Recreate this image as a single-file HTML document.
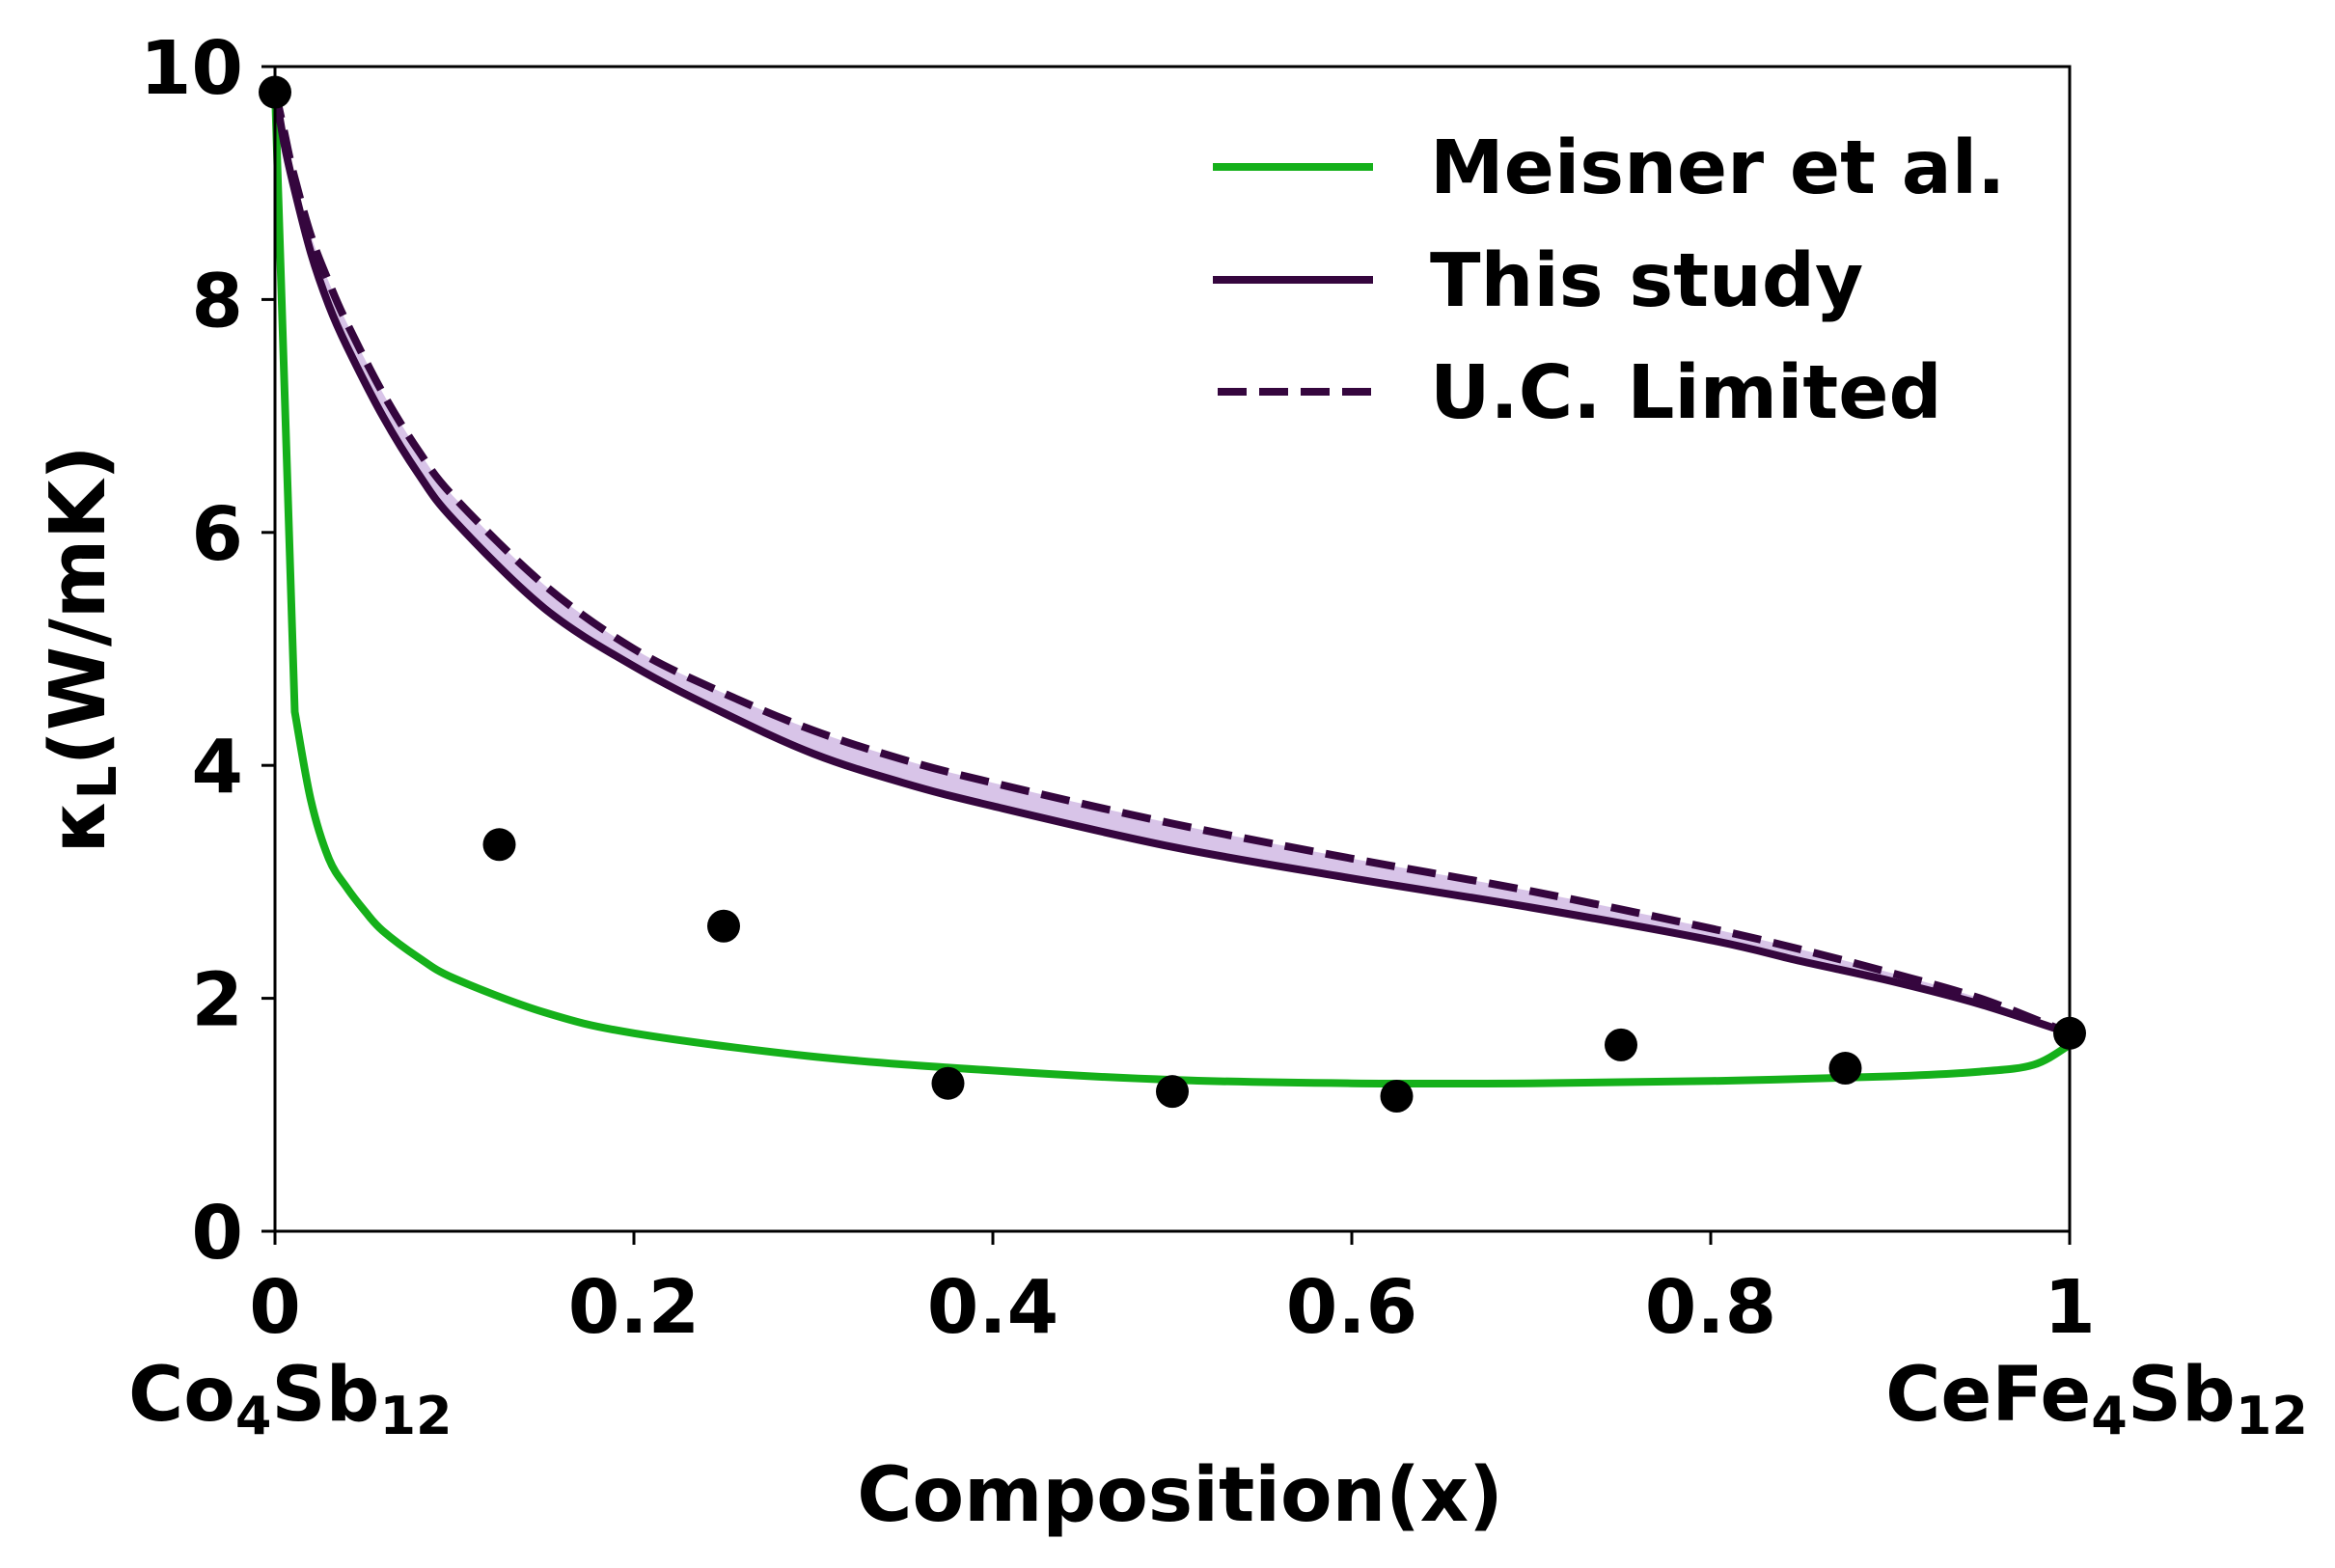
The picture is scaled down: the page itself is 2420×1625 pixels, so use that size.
<!DOCTYPE html>
<html><head><meta charset="utf-8"><style>
html,body{margin:0;padding:0;background:#fff;}
svg{display:block;font-family:"DejaVu Sans","Liberation Sans",sans-serif;font-weight:bold;}
</style></head><body>
<svg id="chart" width="2420" height="1625" viewBox="0 0 2420 1625">
</svg>
<script>
const studyX=[0,0.005,0.01,0.02,0.03,0.04,0.06,0.08,0.1,0.15,0.2,0.25,0.3,0.35,0.4,0.5,0.6,0.7,0.8,0.85,0.9,0.95,1];
const studyY=[9.8,9.35,9.0,8.4,7.95,7.6,7.0,6.5,6.1,5.35,4.85,4.45,4.1,3.85,3.65,3.3,3.03,2.78,2.5,2.32,2.15,1.95,1.7];
const ucY=[9.8,9.45,9.1,8.55,8.15,7.8,7.2,6.7,6.3,5.55,5.0,4.62,4.3,4.05,3.85,3.5,3.2,2.92,2.6,2.42,2.22,2.0,1.7];
const meisnerX=[0,0.011,0.02,0.03,0.04,0.05,0.06,0.08,0.1,0.15,0.2,0.3,0.4,0.5,0.6,0.7,0.8,0.9,0.95,0.98,1];
const meisnerY=[9.8,4.46,3.7,3.2,2.95,2.75,2.58,2.35,2.17,1.88,1.7,1.5,1.38,1.3,1.27,1.27,1.29,1.33,1.37,1.43,1.6];
const expX=[0,0.125,0.25,0.375,0.5,0.625,0.75,0.875,1];
const expY=[9.78,3.32,2.62,1.27,1.2,1.16,1.6,1.4,1.7];
const xTicks=[0,0.2,0.4,0.6,0.8,1];
const xTickLabels=["0","0.2","0.4","0.6","0.8","1"];
const yTicks=[0,2,4,6,8,10];
const yTickLabels=["0","2","4","6","8","10"];

const L=285,R=2145,T=69,B=1276;
const X=v=>L+v*(R-L);
const Y=v=>B-v/10*(B-T);
const NS="http://www.w3.org/2000/svg";
const svg=document.getElementById('chart');
function mk(tag,attrs,parent){const e=document.createElementNS(NS,tag);for(const k in attrs)e.setAttribute(k,attrs[k]);(parent||svg).appendChild(e);return e;}
function segs(xs,ys,linearFirst){
  const p=xs.map((x,i)=>[X(x),Y(ys[i])]);
  let d='';
  const start=linearFirst?1:0;
  if(linearFirst)d+=' L'+p[1][0].toFixed(1)+','+p[1][1].toFixed(1);
  for(let i=start;i<p.length-1;i++){
    const p0=p[Math.max(start,i-1)],p1=p[i],p2=p[i+1],p3=p[Math.min(p.length-1,i+2)];
    const c1=[p1[0]+(p2[0]-p0[0])/6,p1[1]+(p2[1]-p0[1])/6];
    const c2=[p2[0]-(p3[0]-p1[0])/6,p2[1]-(p3[1]-p1[1])/6];
    const lo=Math.min(p1[0],p2[0]),hi=Math.max(p1[0],p2[0]);
    c1[0]=Math.min(Math.max(c1[0],lo),hi);c2[0]=Math.min(Math.max(c2[0],lo),hi);
    d+=' C'+c1[0].toFixed(1)+','+c1[1].toFixed(1)+' '+c2[0].toFixed(1)+','+c2[1].toFixed(1)+' '+p2[0].toFixed(1)+','+p2[1].toFixed(1);
  }
  return {start:p[0],d:d};
}
function path(xs,ys,lf){const s=segs(xs,ys,lf);return 'M'+s.start[0].toFixed(1)+','+s.start[1].toFixed(1)+s.d;}

const up=segs(studyX,ucY,false);
const lo=segs(studyX.slice().reverse(),studyY.slice().reverse(),false);
let f=mk('path',{d:'M'+up.start[0]+','+up.start[1]+up.d+' L'+lo.start[0]+','+lo.start[1]+lo.d+' Z',fill:'#d8c4e8',stroke:'none'});



let m=mk('path',{d:path(meisnerX,meisnerY,true),fill:'none',stroke:'#15b01a','stroke-width':8,'stroke-linejoin':'round'});


let s=mk('path',{d:path(studyX,studyY,false),fill:'none',stroke:'#35063e','stroke-width':8,'stroke-linejoin':'round'});


let u=mk('path',{d:path(studyX,ucY,false),fill:'none',stroke:'#35063e','stroke-width':8,'stroke-dasharray':'30,13'});



expX.forEach((x,i)=>{
  const c=mk('circle',{cx:X(x),cy:Y(expY[i]),r:17,fill:'#000'});
  
  
});

const fr=mk('rect',{x:L,y:T,width:R-L,height:B-T,fill:'none',stroke:'#000','stroke-width':3});



xTicks.forEach((t,i)=>{
  const l=mk('line',{x1:X(t),x2:X(t),y1:B,y2:B+14,stroke:'#000','stroke-width':3});
  
  
  const tx=mk('text',{x:X(t),y:1381,'font-size':77,'text-anchor':'middle'});
  tx.textContent=xTickLabels[i];
  
  
});
yTicks.forEach((t,i)=>{
  const l=mk('line',{x1:L-14,x2:L,y1:Y(t),y2:Y(t),stroke:'#000','stroke-width':3});
  
  
  const tx=mk('text',{x:252,y:Y(t)+28,'font-size':77,'text-anchor':'end'});
  tx.textContent=yTickLabels[i];
  
  
});

svg.insertAdjacentHTML('beforeend',`
<text x="133" y="1472" font-size="78">Co<tspan font-size="54" dy="14">4</tspan><tspan dy="-14">Sb</tspan><tspan font-size="54" dy="14">12</tspan></text>
<text x="2392" y="1472" font-size="78" text-anchor="end">CeFe<tspan font-size="54" dy="14">4</tspan><tspan dy="-14">Sb</tspan><tspan font-size="54" dy="14">12</tspan></text>
<text x="1223" y="1576" font-size="78" text-anchor="middle">Composition(x)</text>
<text transform="translate(108,673) rotate(-90)" font-size="79" text-anchor="middle">κ<tspan font-size="55" dy="12">L</tspan><tspan dy="-12">(W/mK)</tspan></text>
<g>
<line x1="1257" x2="1423" y1="173" y2="173" stroke="#15b01a" stroke-width="8"/>
<text x="1482" y="200" font-size="77">Meisner et al.</text>
<line x1="1257" x2="1423" y1="290" y2="290" stroke="#35063e" stroke-width="8"/>
<text x="1482" y="317" font-size="77">This study</text>
<line x1="1262" x2="1423" y1="406" y2="406" stroke="#35063e" stroke-width="8" stroke-dasharray="30,13"/>
<text x="1482" y="433" font-size="77">U.C. Limited</text>
</g>`);
</script>
</body></html>
